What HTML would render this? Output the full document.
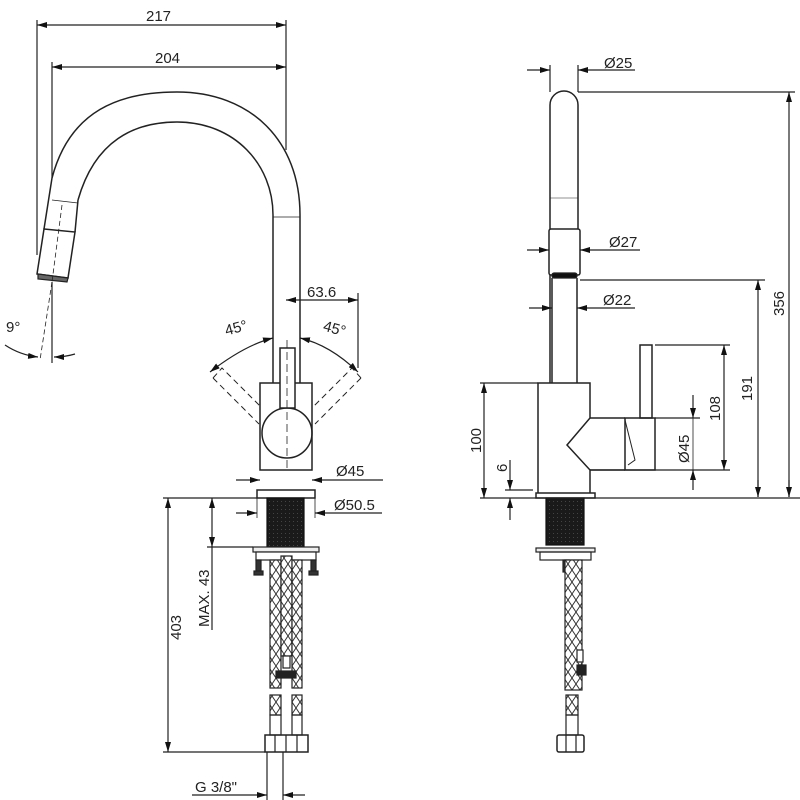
<!DOCTYPE html>
<html><head><meta charset="utf-8"><style>
html,body{margin:0;padding:0;background:#fff}
svg{display:block}
text{font-family:"Liberation Sans",sans-serif;font-size:15px;fill:#222}
</style></head><body>
<svg width="800" height="800" viewBox="0 0 800 800" xmlns="http://www.w3.org/2000/svg">
<defs>
<marker id="a" viewBox="0 0 10 6" refX="10" refY="3" markerWidth="10" markerHeight="6" orient="auto-start-reverse" markerUnits="userSpaceOnUse"><path d="M0,0 L10,3 L0,6z" fill="#111"/></marker>
<pattern id="br" width="8" height="12" patternUnits="userSpaceOnUse"><rect width="8" height="12" fill="#fff"/><path d="M0,0 L8,12 M8,0 L0,12" stroke="#333" stroke-width="1"/></pattern>
<pattern id="th" width="4" height="4" patternUnits="userSpaceOnUse"><rect width="4" height="4" fill="#1a1a1a"/><rect x="1" y="1" width="1" height="1" fill="#444"/></pattern>
</defs>
<g fill="none" stroke="#222" stroke-width="1.2">
<line x1="37" y1="20" x2="37" y2="255"/><line x1="286" y1="20" x2="286" y2="150"/>
<line x1="37" y1="25" x2="286" y2="25" marker-start="url(#a)" marker-end="url(#a)"/>
<line x1="52" y1="62" x2="52" y2="178"/>
<line x1="52" y1="67" x2="286" y2="67" marker-start="url(#a)" marker-end="url(#a)"/>
<path d="M52,178 C70,110 120,92 177,92 C250,92 300,140 300,215" stroke-width="1.5"/>
<path d="M78,200 C95,140 135,122 177,122 C235,122 273,165 273,215" stroke-width="1.5"/>
<line x1="273" y1="215" x2="273" y2="383" stroke-width="1.5"/><line x1="300" y1="215" x2="300" y2="383" stroke-width="1.5"/>
<line x1="273" y1="217" x2="300" y2="217" stroke-width="0.8"/>
<line x1="52" y1="178" x2="44" y2="229" stroke-width="1.5"/><line x1="78" y1="200" x2="75" y2="232" stroke-width="1.5"/>
<line x1="52" y1="200" x2="78" y2="203" stroke-width="0.8"/>
<path d="M44,229 L75,232 L68,278 L37,274 Z" stroke-width="1.5"/>
<path d="M38,274 L68,278 L67,282 L38,279 Z" fill="#666"/>
<line x1="62" y1="205" x2="52" y2="282" stroke-dasharray="5,3" stroke-width="0.8"/>
<line x1="52" y1="282" x2="52" y2="363"/>
<line x1="52" y1="282" x2="40" y2="360" stroke-dasharray="5,3" stroke-width="0.8"/>
<path d="M5,345 Q20,355 38,357" marker-end="url(#a)"/>
<path d="M75,354 Q65,357 54,357" marker-end="url(#a)"/>
<line x1="358" y1="293" x2="358" y2="368"/>
<line x1="286" y1="300" x2="358" y2="300" marker-start="url(#a)" marker-end="url(#a)"/>
<path d="M210,372 Q245,345 273,338" marker-start="url(#a)" marker-end="url(#a)"/>
<path d="M300,338 Q330,345 358,372" marker-start="url(#a)" marker-end="url(#a)"/>
<g stroke-dasharray="6,4" stroke-width="1">
<path d="M213,378 L222,368 L268,414 M213,378 L259,424"/>
<path d="M361,378 L352,368 L306,414 M361,378 L315,424"/>
</g>
<rect x="260" y="383" width="52" height="87" stroke-width="1.5" fill="#fff"/>
<circle cx="287" cy="433" r="25" stroke-width="1.5"/>
<rect x="280" y="348" width="15" height="60" stroke-width="1.5" fill="#fff"/>
<line x1="287" y1="340" x2="287" y2="470" stroke-dasharray="8,4" stroke-width="0.8"/>
<line x1="236" y1="480" x2="260" y2="480" marker-end="url(#a)"/>
<line x1="383" y1="480" x2="312" y2="480" marker-end="url(#a)"/>
<rect x="257" y="490" width="58" height="8" stroke-width="1.5"/>
<line x1="236" y1="513" x2="257" y2="513" marker-end="url(#a)"/>
<line x1="382" y1="513" x2="315" y2="513" marker-end="url(#a)"/>
<line x1="257" y1="498" x2="257" y2="518" stroke-width="0.8"/><line x1="315" y1="498" x2="315" y2="518" stroke-width="0.8"/>
<rect x="267" y="498" width="37" height="49" fill="url(#th)" stroke="#111"/>
<rect x="253" y="547" width="66" height="5" fill="#eee"/>
<rect x="256" y="552" width="60" height="8" fill="#fff"/>
<rect x="256" y="560" width="5" height="12" fill="#333"/><rect x="311" y="560" width="5" height="12" fill="#333"/>
<rect x="254" y="571" width="9" height="4" fill="#333"/><rect x="309" y="571" width="9" height="4" fill="#333"/>
<rect x="270" y="560" width="11" height="128" fill="url(#br)"/>
<rect x="281" y="556" width="11" height="100" fill="url(#br)"/>
<rect x="292" y="560" width="10" height="128" fill="url(#br)"/>
<rect x="283" y="656" width="7" height="12" fill="#fff"/>
<rect x="276" y="671" width="20" height="7" fill="#222"/>
<rect x="270" y="695" width="11" height="20" fill="url(#br)"/><rect x="292" y="695" width="10" height="20" fill="url(#br)"/>
<rect x="270" y="715" width="11" height="20"/><rect x="292" y="715" width="10" height="20"/>
<rect x="265" y="735" width="43" height="17" stroke-width="1.5"/>
<line x1="275" y1="735" x2="275" y2="752"/><line x1="286" y1="735" x2="286" y2="752"/><line x1="297" y1="735" x2="297" y2="752"/>
<line x1="163" y1="498" x2="257" y2="498"/><line x1="163" y1="752" x2="265" y2="752"/>
<line x1="168" y1="498" x2="168" y2="752" marker-start="url(#a)" marker-end="url(#a)"/>
<line x1="207" y1="547" x2="253" y2="547"/>
<line x1="212" y1="498" x2="212" y2="547" marker-start="url(#a)" marker-end="url(#a)"/>
<line x1="212" y1="547" x2="212" y2="630"/>
<line x1="267" y1="752" x2="267" y2="800"/><line x1="283" y1="752" x2="283" y2="800"/>
<line x1="192" y1="795" x2="267" y2="795" marker-end="url(#a)"/><line x1="305" y1="795" x2="283" y2="795" marker-end="url(#a)"/>

<line x1="550" y1="65" x2="550" y2="92"/><line x1="578" y1="65" x2="578" y2="92"/>
<line x1="527" y1="70" x2="550" y2="70" marker-end="url(#a)"/>
<line x1="635" y1="70" x2="578" y2="70" marker-end="url(#a)"/>
<path d="M550,383 L550,105 A14,14 0 0 1 578,105 L578,229" stroke-width="1.5"/>
<line x1="550" y1="198" x2="578" y2="198" stroke-width="0.6"/>
<rect x="549" y="229" width="31" height="46" rx="2" stroke-width="1.5" fill="#fff"/>
<rect x="552" y="273" width="25" height="5" rx="2" fill="#111"/>
<line x1="552" y1="278" x2="552" y2="383" stroke-width="1.5"/><line x1="577" y1="278" x2="577" y2="383" stroke-width="1.5"/>
<line x1="527" y1="250" x2="549" y2="250" marker-end="url(#a)"/><line x1="640" y1="250" x2="580" y2="250" marker-end="url(#a)"/>
<line x1="529" y1="308" x2="552" y2="308" marker-end="url(#a)"/><line x1="635" y1="308" x2="577" y2="308" marker-end="url(#a)"/>
<line x1="578" y1="92" x2="795" y2="92"/>
<line x1="789" y1="497" x2="789" y2="92" marker-end="url(#a)"/>
<line x1="580" y1="280" x2="765" y2="280"/>
<line x1="758" y1="497" x2="758" y2="280" marker-end="url(#a)"/>
<line x1="758" y1="497" x2="758" y2="480" marker-start="url(#a)"/>
<line x1="789" y1="497" x2="789" y2="480" marker-start="url(#a)"/>
<path d="M538,493 L538,383 L590,383 L590,418 L567,445 L590,470 L590,493" stroke-width="1.5"/>
<line x1="590" y1="418" x2="625" y2="418" stroke-width="1.5"/><line x1="590" y1="470" x2="625" y2="470" stroke-width="1.5"/>
<rect x="625" y="418" width="30" height="52" stroke-width="1.5"/>
<path d="M625,420 L635,460 L628,465" stroke-width="1"/>
<rect x="640" y="345" width="12" height="73" stroke-width="1.5"/>
<rect x="536" y="493" width="59" height="5" stroke-width="1.5"/>
<rect x="546" y="498" width="38" height="47" fill="url(#th)" stroke="#111"/>
<rect x="536" y="548" width="59" height="4" fill="#eee"/>
<rect x="540" y="552" width="51" height="8"/>
<rect x="563" y="560" width="6" height="12" fill="#333"/>
<rect x="565" y="560" width="17" height="130" fill="url(#br)"/>
<rect x="577" y="650" width="6" height="12" fill="#fff"/><rect x="577" y="665" width="9" height="10" fill="#222"/>
<rect x="566" y="695" width="12" height="20" fill="url(#br)"/><rect x="566" y="715" width="12" height="20"/>
<rect x="557" y="735" width="27" height="17" rx="2" stroke-width="1.5"/>
<line x1="566" y1="735" x2="566" y2="752"/><line x1="576" y1="735" x2="576" y2="752"/>
<line x1="655" y1="345" x2="730" y2="345"/><line x1="590" y1="470" x2="730" y2="470"/><line x1="655" y1="418" x2="700" y2="418"/>
<line x1="724" y1="345" x2="724" y2="470" marker-start="url(#a)" marker-end="url(#a)"/>
<line x1="693" y1="395" x2="693" y2="418" marker-end="url(#a)"/>
<line x1="693" y1="490" x2="693" y2="470" marker-end="url(#a)"/>
<line x1="693" y1="418" x2="693" y2="470" stroke-width="0.8"/>
<line x1="480" y1="383" x2="538" y2="383"/><line x1="480" y1="498" x2="800" y2="498"/>
<line x1="484" y1="383" x2="484" y2="498" marker-start="url(#a)" marker-end="url(#a)"/>
<line x1="505" y1="490" x2="533" y2="490"/>
<line x1="510" y1="460" x2="510" y2="490" marker-end="url(#a)"/>
<line x1="510" y1="520" x2="510" y2="498" marker-end="url(#a)"/>
</g>
<text x="146" y="21">217</text>
<text x="155" y="63">204</text>
<text x="6" y="332">9°</text>
<text x="307" y="297">63.6</text>
<text x="226" y="333" transform="rotate(-15 236 333)">45°</text>
<text x="322" y="333" transform="rotate(15 332 333)">45°</text>
<text x="336" y="476">Ø45</text>
<text x="334" y="510">Ø50.5</text>
<text transform="translate(181,640) rotate(-90)">403</text>
<text transform="translate(209,627) rotate(-90)">MAX. 43</text>
<text x="195" y="792">G 3/8"</text>
<text x="604" y="68">Ø25</text>
<text x="609" y="247">Ø27</text>
<text x="603" y="305">Ø22</text>
<text transform="translate(784,316) rotate(-90)">356</text>
<text transform="translate(752,401) rotate(-90)">191</text>
<text transform="translate(720,421) rotate(-90)">108</text>
<text transform="translate(689,463) rotate(-90)">Ø45</text>
<text transform="translate(481,453) rotate(-90)">100</text>
<text transform="translate(507,472) rotate(-90)">6</text>
</svg>
</body></html>
